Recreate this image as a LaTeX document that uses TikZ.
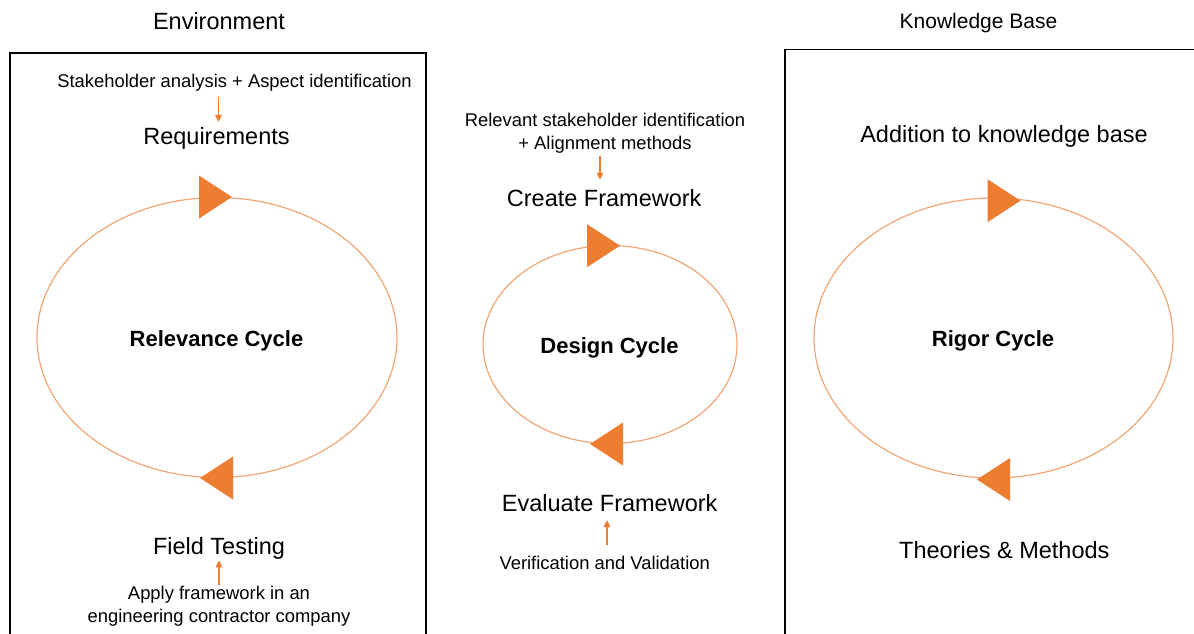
\documentclass[tikz,border=0pt]{standalone}
\usepackage{fontspec}
\setmainfont{Liberation Sans}
\usetikzlibrary{arrows.meta,shapes.geometric}
\definecolor{accent}{HTML}{ED7D31}
\definecolor{ringline}{HTML}{F2A676}
\begin{document}
\begin{tikzpicture}[x=1pt,y=-1pt,
  bigtext/.style={inner sep=0pt,font=\fontsize{23.5}{28}\selectfont,text height=17pt,text depth=4.9pt},
  headtext/.style={inner sep=0pt,font=\fontsize{21}{25}\selectfont,text height=15.2pt,text depth=4.4pt},
  smalltext/.style={inner sep=0pt,font=\fontsize{18.4}{23}\selectfont,text height=13.3pt,text depth=3.9pt},
  twoline/.style={inner sep=0pt,font=\fontsize{18.4}{23}\selectfont,align=center},
  cyclabel/.style={inner sep=0pt,font=\fontsize{22}{26}\selectfont\bfseries,text height=16pt,text depth=4.6pt},
  ring/.style={draw=ringline,line width=1.2pt,ellipse,inner sep=0pt},
  flow/.style={draw=accent,line width=1.4pt,-{Triangle[width=6.5pt,length=7pt]}},
  panel/.style={draw=black,line width=1.2pt},
  tri right/.pic={\fill[accent] (0,0) -- (-33,-21.5) -- (-33,21.5) -- cycle;},
  tri left/.pic={\fill[accent] (0,0) -- (33,-21.5) -- (33,21.5) -- cycle;}]
\useasboundingbox (0,0) rectangle (1194,634);
\fill[white] (0,0) rectangle (1194,634);

% panel frames (open at the bottom / right)
\draw[panel] (10,634) -- (10,53) -- (426,53) -- (426,634);
\draw[panel] (785,634) -- (785,49.5) -- (1200,49.5);

% headings
\node[bigtext] (env) at (219,23.4) {Environment};
\node[headtext] (kb) at (978.5,23.4) {Knowledge Base};

% relevance cycle
\node[smalltext] (stake) at (234.5,82.7) {Stakeholder analysis + Aspect identification};
\node[bigtext] (req) at (216.5,138.7) {Requirements};
\draw[flow,shorten <=5.7pt,shorten >=5.7pt] ([xshift=2pt]req.north |- stake.south) -- ([xshift=2pt]req.north);
\node[ring,minimum width=360pt,minimum height=280pt] (relring) at (217,337.5) {};
\node[cyclabel] (rellab) at (216.5,341.2) {Relevance Cycle};
\pic at (232,197) {tri right};
\pic at (200,478) {tri left};
\node[bigtext] (field) at (219,548.7) {Field Testing};
\node[twoline,anchor=north] (apply) at (219,586) {Apply framework in an\\engineering contractor company};
\draw[flow,shorten <=1pt,shorten >=0.5pt] (apply.north) -- (field.south);

% design cycle
\node[twoline,anchor=north] (relv) at (605,113.3) {Relevant stakeholder identification\\+ Alignment methods};
\node[bigtext] (create) at (604.2,200.4) {Create Framework};
\draw[flow,shorten <=1.8pt,shorten >=9.5pt] ([xshift=-5pt]relv.south) -- ([xshift=-5pt]relv.south |- create.north);
\node[ring,minimum width=254pt,minimum height=198pt] (desring) at (610,344.5) {};
\node[cyclabel] (deslab) at (609.5,348.2) {Design Cycle};
\pic at (620,245.7) {tri right};
\pic at (590,444) {tri left};
\node[bigtext] (eval) at (609.7,505.9) {Evaluate Framework};
\node[smalltext] (verif) at (604.7,565.2) {Verification and Validation};
\draw[flow,shorten <=11.6pt,shorten >=3pt] ([xshift=2.3pt]verif.north) -- ([xshift=2.3pt]verif.north |- eval.south);

% rigor cycle
\node[bigtext] (add) at (1004,136.2) {Addition to knowledge base};
\node[ring,minimum width=359pt,minimum height=280pt] (rigring) at (993.5,338) {};
\node[cyclabel] (riglab) at (993,341.2) {Rigor Cycle};
\pic at (1020.5,200.7) {tri right};
\pic at (977,479.5) {tri left};
\node[bigtext] (theo) at (1004.3,552.7) {Theories \& Methods};
\end{tikzpicture}
\end{document}
